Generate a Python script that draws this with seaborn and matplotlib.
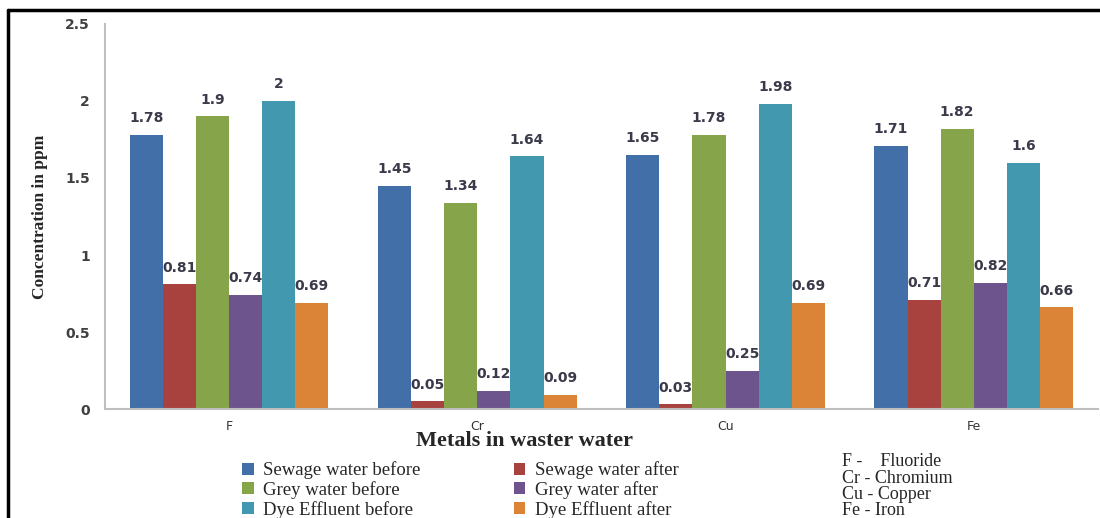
import pandas as pd
import matplotlib
matplotlib.use('Agg')
import matplotlib.pyplot as plt
from matplotlib.lines import Line2D
import seaborn as sns

metals = ['F', 'Cr', 'Cu', 'Fe']
series = ['Sewage water before', 'Sewage water after', 'Grey water before',
          'Grey water after', 'Dye Effluent before', 'Dye Effluent after']
sewage_before = [1.78, 1.45, 1.65, 1.71]
sewage_after = [0.81, 0.05, 0.03, 0.71]
grey_before = [1.9, 1.34, 1.78, 1.82]
grey_after = [0.74, 0.12, 0.25, 0.82]
dye_before = [2, 1.64, 1.98, 1.6]
dye_after = [0.69, 0.09, 0.69, 0.66]
colors = ['#426FA7', '#A8423F', '#86A44A', '#6E548D', '#4198AF', '#DB8438']
key_lines = ['F -    Fluoride', 'Cr - Chromium', 'Cu - Copper', 'Fe - Iron']

values = [sewage_before, sewage_after, grey_before, grey_after, dye_before, dye_after]
rows = []
for name, vals in zip(series, values):
    for m, v in zip(metals, vals):
        rows.append({'Metal': m, 'Series': name, 'Value': v})
df = pd.DataFrame(rows)

sns.set_style('white')
fig = plt.figure(figsize=(11, 5.18), dpi=100)
ax = fig.add_axes([0.0955, 0.2104, 0.9025, 0.7433])

sns.barplot(data=df, x='Metal', y='Value', hue='Series', order=metals,
            hue_order=series, palette=colors, width=0.8, saturation=1,
            edgecolor='none', ax=ax)

for cont in ax.containers:
    ax.bar_label(cont, fmt='%g', padding=7, fontsize=10, color='#3a3a4a',
                 fontweight='bold')

ax.set_ylim(0, 2.5)
ax.set_xlim(-0.5, 3.5)
ax.set_yticks([0, 0.5, 1, 1.5, 2, 2.5])
ax.set_yticklabels(['0', '0.5', '1', '1.5', '2', '2.5'])
ax.set_xticks([-0.5, 0.5, 1.5, 2.5, 3.5], minor=True)
ax.tick_params(axis='x', which='major', length=0, labelsize=9,
               labelcolor='#333333', pad=8)
ax.tick_params(axis='x', which='minor', length=5, color='#BFBFBF', width=1.2)
ax.tick_params(axis='y', length=5, color='#BFBFBF', width=1.2, labelsize=10,
               labelcolor='#404040', pad=6)
for lab in ax.get_yticklabels():
    lab.set_fontweight('bold')
sns.despine(ax=ax)
for s in ['left', 'bottom']:
    ax.spines[s].set_color('#BFBFBF')
    ax.spines[s].set_linewidth(1.5)
ax.set_xlabel('')
ax.set_ylabel('Concentration in ppm', family='Liberation Serif',
              fontweight='bold', fontsize=12.5, labelpad=12)

fig.text(0.477, 1 - 441 / 518, 'Metals in waster water', family='Liberation Serif',
         fontweight='bold', fontsize=16, ha='center', va='center')

handles, labels = ax.get_legend_handles_labels()
ax.get_legend().remove()
order = [0, 2, 4, 1, 3, 5]
fig.legend([handles[i] for i in order], [labels[i] for i in order], ncol=2,
           loc='upper left', bbox_to_anchor=(233 / 1100, 1 - 452 / 518),
           frameon=False, prop={'family': 'Liberation Serif', 'size': 13.5},
           handlelength=0.6, handleheight=0.6, handletextpad=0.5,
           columnspacing=5.0, labelspacing=0.1, borderpad=0)

for i, t in enumerate(key_lines):
    fig.text(842 / 1100, 1 - (462 + i * 16.2) / 518, t, family='Liberation Serif',
             fontsize=13, va='center', ha='left')

fig.add_artist(Line2D([8 / 1100, 8 / 1100], [0, 1 - 10 / 518], color='black',
                      lw=2.5, transform=fig.transFigure))
fig.add_artist(Line2D([8 / 1100, 1], [1 - 10 / 518, 1 - 10 / 518], color='black',
                      lw=2.5, transform=fig.transFigure))

fig.savefig('out.png', dpi=100)
